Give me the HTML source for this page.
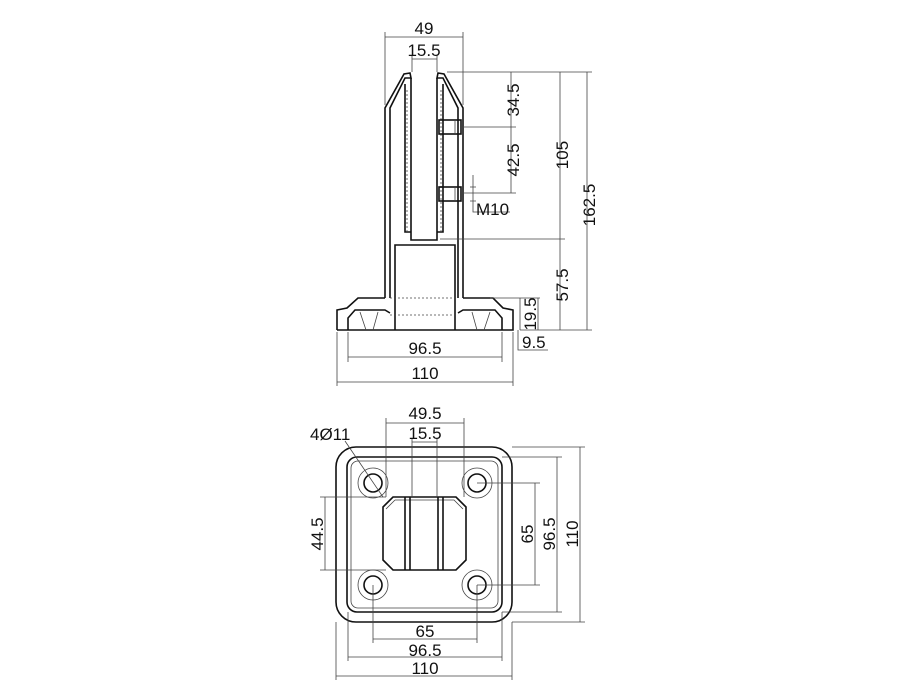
<!DOCTYPE html>
<html><head><style>
html,body{margin:0;padding:0;background:#fff;}
svg{display:block;}
text{font-family:"Liberation Sans",sans-serif;font-size:17px;fill:#111;}
.t{stroke:#111;stroke-width:1.6;fill:none;}
.d{stroke:#444;stroke-width:0.8;fill:none;}
.h{stroke:#444;stroke-width:0.8;fill:none;stroke-dasharray:2,2;}
</style></head><body>
<svg width="900" height="700" viewBox="0 0 900 700">
<path class="t" d="M385,298 L385,108 L404,74 L410,73 L411,78 L405,78 L390,108 L390,298"/>
<path class="t" d="M463,298 L463,108 L444,74 L438,73 L437,78 L443,78 L458,108 L458,298"/>
<path class="t" d="M411,78 L411,240 L437,240 L437,78"/>
<path class="t" d="M405,84 L405,232 L411,232 M443,84 L443,232 L437,232"/>
<line class="h" x1="407" y1="90" x2="407" y2="232"/>
<line class="h" x1="441" y1="90" x2="441" y2="232"/>
<rect class="t" x="439" y="120" width="22" height="14"/>
<rect class="t" x="439" y="187" width="22" height="14"/>
<line class="d" x1="455" y1="120" x2="455" y2="134"/>
<line class="d" x1="455" y1="187" x2="455" y2="201"/>
<path class="t" d="M395,330 L395,245 L455,245 L455,330"/>
<path class="t" d="M337,330 L337,310 L347,308 L358,298 L385,298"/>
<path class="t" d="M463,298 L493,298 L503,308 L513,310 L513,330 L337,330"/>
<path class="t" d="M348,330 L348,318 L355,310 L385,310 L390,313 M502,330 L502,318 L495,310 L463,310 L458,313"/>
<path class="d" d="M360,312 L366,330 M378,312 L373,330 M490,312 L484,330 M472,312 L477,330"/>
<line class="h" x1="390" y1="298" x2="458" y2="298"/>
<line class="h" x1="390" y1="315" x2="458" y2="315"/>
<path class="d" d="M385,105 L385,32 M463,105 L463,32 M385,37 L463,37"/>
<path class="d" d="M412,72 L412,55 M437,72 L437,55 M412,59 L437,59"/>
<text x="424" y="34" text-anchor="middle">49</text>
<text x="424" y="56" text-anchor="middle">15.5</text>
<path class="d" d="M447,72 L592,72 M463,127 L516,127 M463,193 L516,193 M440,239 L565,239 M520,330 L592,330 M490,298 L540,298"/>
<path class="d" d="M511,72 L511,193 M560,72 L560,330 M587,72 L587,330"/>
<path class="d" d="M473,175 L473,212 L510,212 M470,187 L476,187 M470,201 L476,201"/>
<text x="476" y="215">M10</text>
<text transform="translate(519,100) rotate(-90)" text-anchor="middle">34.5</text>
<text transform="translate(519,160) rotate(-90)" text-anchor="middle">42.5</text>
<text transform="translate(568,155) rotate(-90)" text-anchor="middle">105</text>
<text transform="translate(595,205) rotate(-90)" text-anchor="middle">162.5</text>
<text transform="translate(568,285) rotate(-90)" text-anchor="middle">57.5</text>
<path class="d" d="M520,298 L520,330 M538,298 L538,330 M518,330 L518,350 L548,350"/>
<text transform="translate(536,314) rotate(-90)" text-anchor="middle">19.5</text>
<text x="522" y="348">9.5</text>
<path class="d" d="M348,332 L348,362 M502,332 L502,362 M348,357 L502,357"/>
<path class="d" d="M337,332 L337,386 M513,332 L513,386 M337,382 L513,382"/>
<text x="425" y="354" text-anchor="middle">96.5</text>
<text x="425" y="379" text-anchor="middle">110</text>

<rect class="t" x="336" y="447" width="176" height="175" rx="20"/>
<rect class="t" x="347" y="457" width="155" height="155" rx="10"/>
<rect class="d" x="351" y="461" width="147" height="147" rx="7"/>
<circle class="t" cx="373" cy="483" r="9"/><circle class="d" cx="373" cy="483" r="15"/>
<circle class="t" cx="477" cy="483" r="9"/><circle class="d" cx="477" cy="483" r="15"/>
<circle class="t" cx="373" cy="585" r="9"/><circle class="d" cx="373" cy="585" r="15"/>
<circle class="t" cx="477" cy="585" r="9"/><circle class="d" cx="477" cy="585" r="15"/>
<path class="t" d="M393,497 L456,497 L466,507 L466,560 L456,570 L393,570 L383,560 L383,507 Z"/>
<path class="d" d="M395,500 L454,500 L463,509 M386,509 L395,500"/>
<path class="t" d="M405,497 L405,570 M410,497 L410,570 M438,497 L438,570 M443,497 L443,570"/>
<path class="d" d="M386,418 L386,497 M464,418 L464,497 M386,423 L464,423"/>
<path class="d" d="M412,438 L412,497 M437,438 L437,497 M412,442 L437,442"/>
<text x="425" y="419" text-anchor="middle">49.5</text>
<text x="425" y="439" text-anchor="middle">15.5</text>
<path class="d" d="M345,441 L383,497"/>
<text x="310" y="440">4Ø11</text>
<path class="d" d="M320,497 L386,497 M320,570 L386,570 M325,497 L325,570"/>
<text transform="translate(323,534) rotate(-90)" text-anchor="middle">44.5</text>
<path class="d" d="M477,483 L540,483 M477,585 L540,585 M535,483 L535,585"/>
<path class="d" d="M502,457 L562,457 M502,612 L562,612 M557,457 L557,612"/>
<path class="d" d="M512,447 L585,447 M512,622 L585,622 M580,447 L580,622"/>
<text transform="translate(533,534) rotate(-90)" text-anchor="middle">65</text>
<text transform="translate(555,534) rotate(-90)" text-anchor="middle">96.5</text>
<text transform="translate(578,534) rotate(-90)" text-anchor="middle">110</text>
<path class="d" d="M373,585 L373,643 M477,585 L477,643 M373,639 L477,639"/>
<path class="d" d="M348,612 L348,661 M502,612 L502,661 M348,657 L502,657"/>
<path class="d" d="M336,622 L336,680 M512,622 L512,680 M336,676 L512,676"/>
<text x="425" y="637" text-anchor="middle">65</text>
<text x="425" y="656" text-anchor="middle">96.5</text>
<text x="425" y="674" text-anchor="middle">110</text>
</svg>
</body></html>
